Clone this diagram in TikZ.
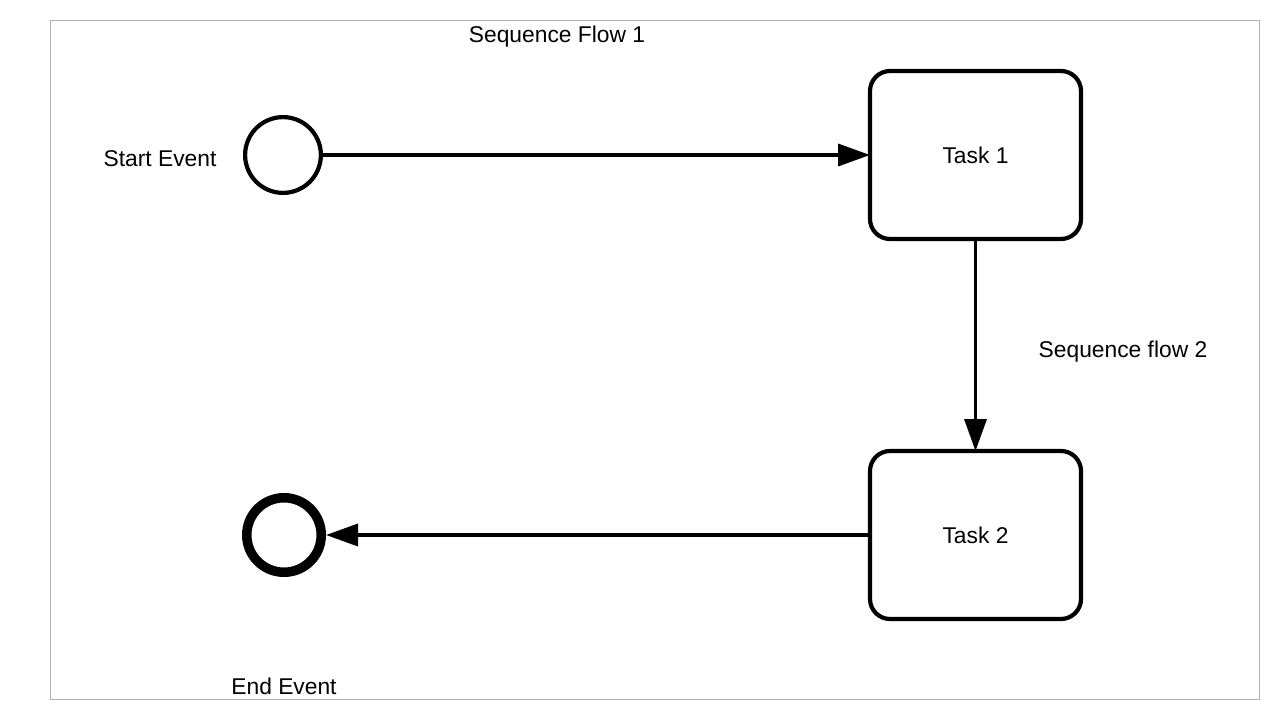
\documentclass[tikz,border=0pt]{standalone}
\usepackage{fontspec}
\setmainfont{Liberation Sans}
\usetikzlibrary{arrows.meta}
\begin{document}
\begin{tikzpicture}[x=1pt,y=-1pt,
  every node/.style={font=\fontsize{22.8}{27}\selectfont},
  flow/.style={line width=3.6pt,-{Triangle[length=32pt,width=22pt]}},
  task/.style={draw,line width=4.2pt,rounded corners=20pt,minimum width=211pt,minimum height=168pt,outer sep=0pt,inner sep=0pt},
  startev/.style={draw,circle,line width=4.2pt,minimum size=75.8pt,inner sep=0pt},
  endev/.style={draw,circle,line width=9.5pt,minimum size=74.5pt,inner sep=0pt},
  lbl/.style={inner sep=0pt}]
\useasboundingbox (0,0) rectangle (1280,720);
\draw[line width=1pt,color=black!30] (50.5,20.5) rectangle (1259.5,699.5);
\node[startev] (start) at (283,155) {};
\node[task] (t1) at (975.5,155) {\raisebox{-2pt}{Task 1}};
\node[task] (t2) at (975.5,535) {\raisebox{-2pt}{Task 2}};
\node[endev] (end) at (284,535) {};
\node[lbl] (l1) at (557,36.5) {Sequence Flow 1};
\node[lbl] (l2) at (160,159) {Start Event};
\node[lbl] (l3) at (1123,351.5) {Sequence flow 2};
\node[lbl] (l4) at (284,686) {End Event};
\draw[flow] (start) -- (t1);
\draw[flow] (t1) -- (t2);
\draw[flow] (t2) -- (end);
\end{tikzpicture}
\end{document}
